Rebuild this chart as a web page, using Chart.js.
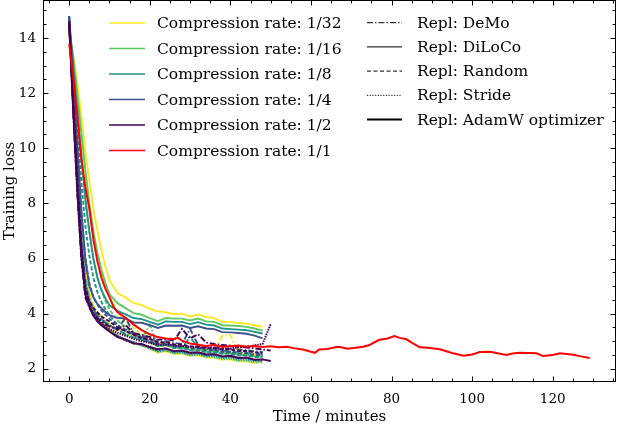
<!DOCTYPE html>
<html>
<head>
<meta charset="utf-8">
<script src="https://cdn.jsdelivr.net/npm/chart.js@4.4.1/dist/chart.umd.min.js"></script>
<style>
  html, body { margin: 0; padding: 0; background: #fff; }
  #wrap { width: 618px; height: 426px; position: relative; }
</style>
</head>
<body>
<div id="wrap"><canvas id="chart"></canvas></div>
<script>
// time grid (minutes) shared by the compressed runs
const minutes = [0, 1, 2, 3, 4, 5, 6, 7, 8, 9, 10, 12, 14, 16, 18, 20, 22, 24, 26, 28, 30, 32, 34, 36, 38, 40, 42, 44, 46, 48, 50];

const rates = ['1/32', '1/16', '1/8', '1/4', '1/2'];
const methods = ['DeMo', 'DiLoCo', 'Random', 'Stride'];

// DeMo (dash-dot)
const demo32 = [14.3, 12.0, 9.6, 7.3, 5.6, 4.75, 4.3, 4.05, 3.9, 3.76, 3.64, 3.45, 3.3, 3.16, 3.05, 2.95, 2.8, 2.86, 2.78, 2.76, 2.72, 2.7, 2.64, 2.62, 3.2, 3.22, 2.6, 2.56, 2.52, 2.5, null];
const demo16 = [14.4, 11.8, 9.4, 7.1, 5.4, 4.6, 4.22, 3.98, 3.84, 3.7, 3.6, 3.4, 3.24, 3.14, 3.06, 3.6, 2.84, 2.86, 2.8, 2.77, 2.72, 2.7, 2.65, 2.63, 2.6, 2.56, 2.54, 2.5, 2.48, 2.46, null];
const demo8 = [14.5, 11.6, 9.1, 6.8, 5.15, 4.5, 4.15, 3.94, 3.8, 3.68, 3.58, 3.4, 3.26, 3.14, 3.05, 2.98, 2.85, 2.88, 2.82, 2.78, 3.15, 2.76, 2.72, 2.68, 2.66, 2.62, 2.6, 2.57, 2.55, 2.52, null];
const demo4 = [14.8, 11.5, 8.9, 6.5, 5.0, 4.4, 4.1, 3.9, 3.78, 3.66, 3.56, 3.45, 3.85, 3.28, 3.18, 3.1, 2.98, 3.0, 2.94, 2.9, 3.45, 2.86, 2.82, 2.78, 2.75, 2.72, 2.7, 2.67, 2.64, 2.6, null];
const demo2 = [14.6, 11.3, 8.4, 6.0, 4.6, 4.22, 4.0, 3.84, 3.72, 3.62, 3.54, 3.42, 3.58, 3.3, 3.22, 3.16, 3.05, 3.08, 3.02, 3.45, 3.1, 3.25, 2.95, 2.9, 2.86, 2.84, 2.8, 2.77, 2.74, 2.7, 2.66];

// DiLoCo (solid)
const dil32 = [14.3, 13.4, 12.4, 11.2, 9.9, 8.8, 7.8, 7.0, 6.3, 5.7, 5.2, 4.75, 4.58, 4.38, 4.32, 4.17, 4.08, 4.05, 3.98, 4.0, 3.9, 3.97, 3.88, 3.84, 3.7, 3.7, 3.66, 3.64, 3.58, 3.52, null];
const dil16 = [14.4, 13.3, 12.0, 10.6, 9.2, 8.0, 7.0, 6.2, 5.6, 5.1, 4.7, 4.38, 4.2, 4.02, 3.96, 3.84, 3.73, 3.84, 3.82, 3.82, 3.75, 3.82, 3.72, 3.7, 3.58, 3.57, 3.55, 3.52, 3.46, 3.38, null];
const dil8 = [14.5, 13.0, 11.4, 9.8, 8.2, 7.0, 6.0, 5.3, 4.85, 4.55, 4.3, 4.1, 3.97, 3.84, 3.8, 3.7, 3.6, 3.72, 3.7, 3.7, 3.62, 3.69, 3.6, 3.57, 3.46, 3.44, 3.42, 3.4, 3.34, 3.28, null];
const dil4 = [14.8, 12.6, 10.2, 7.8, 6.0, 5.0, 4.6, 4.35, 4.2, 4.05, 3.95, 3.85, 3.82, 3.68, 3.67, 3.58, 3.48, 3.57, 3.56, 3.57, 3.48, 3.54, 3.46, 3.44, 3.33, 3.32, 3.3, 3.27, 3.2, 3.1, null];
const dil2 = [14.5, 11.4, 8.5, 6.1, 4.7, 4.25, 3.92, 3.72, 3.58, 3.46, 3.35, 3.15, 3.06, 2.92, 2.9, 2.78, 2.71, 2.74, 2.64, 2.66, 2.58, 2.6, 2.52, 2.53, 2.45, 2.47, 2.39, 2.41, 2.33, 2.34, 2.28];

// Random (dashed)
const rnd32 = [14.2, 13.1, 11.9, 10.5, 9.1, 7.9, 6.9, 6.15, 5.5, 5.0, 4.6, 4.05, 3.68, 3.47, 3.25, 3.14, 2.93, 2.95, 2.84, 2.84, 2.74, 2.75, 2.67, 2.67, 2.59, 2.61, 2.54, 2.55, 2.48, 2.47, null];
const rnd16 = [14.4, 12.9, 11.3, 9.6, 8.1, 6.9, 6.0, 5.35, 4.85, 4.45, 4.15, 3.75, 3.5, 3.26, 3.16, 2.98, 2.85, 2.88, 2.76, 2.77, 2.68, 2.7, 2.61, 2.62, 2.55, 2.57, 2.5, 2.5, 2.45, 2.44, null];
const rnd8 = [14.6, 12.6, 10.7, 8.8, 7.2, 6.1, 5.3, 4.78, 4.42, 4.15, 3.95, 3.6, 3.36, 3.24, 3.06, 2.98, 2.82, 2.86, 2.75, 2.76, 2.67, 2.68, 2.6, 2.6, 2.54, 2.55, 2.48, 2.49, 2.43, 2.42, null];
const rnd4 = [14.7, 12.2, 9.8, 7.6, 6.0, 5.1, 4.6, 4.32, 4.12, 3.96, 3.82, 3.56, 3.42, 3.24, 3.14, 3.0, 2.9, 2.93, 2.82, 2.83, 2.74, 2.75, 2.67, 2.68, 2.61, 2.62, 2.56, 2.57, 2.5, 2.5, null];
const rnd2 = [14.6, 11.8, 9.0, 6.5, 4.95, 4.45, 4.2, 4.04, 3.9, 3.8, 3.72, 3.5, 3.36, 3.24, 3.1, 3.08, 2.94, 2.97, 2.88, 2.88, 2.81, 2.81, 2.74, 2.75, 2.69, 2.7, 2.64, 2.65, 2.59, 2.58, null];

// Stride (dotted)
const str32 = [14.4, 12.1, 9.5, 7.1, 5.4, 4.55, 4.12, 3.88, 3.7, 3.55, 3.42, 3.22, 3.08, 2.9, 2.86, 2.7, 2.58, 2.62, 2.53, 2.54, 2.46, 2.48, 2.4, 2.4, 2.32, 2.33, 2.26, 2.27, 2.2, 2.25, null];
const str16 = [14.5, 11.9, 9.3, 6.9, 5.2, 4.45, 4.05, 3.82, 3.66, 3.52, 3.4, 3.2, 3.03, 2.96, 2.83, 2.77, 2.6, 2.66, 2.56, 2.57, 2.48, 2.51, 2.43, 2.42, 2.35, 2.36, 2.29, 2.29, 2.23, 2.24, null];
const str8 = [14.6, 11.7, 9.0, 6.6, 5.0, 4.35, 3.98, 3.76, 3.62, 3.48, 3.37, 3.18, 3.07, 2.91, 2.88, 2.74, 2.64, 2.67, 2.58, 2.6, 2.51, 2.54, 2.46, 2.46, 2.39, 2.4, 2.33, 2.34, 2.28, 2.28, null];
const str4 = [14.7, 11.6, 8.8, 6.4, 4.85, 4.3, 3.95, 3.74, 3.6, 3.47, 3.36, 3.2, 3.02, 2.97, 2.85, 2.82, 2.66, 2.72, 2.62, 2.64, 2.55, 2.58, 2.5, 2.51, 2.43, 2.45, 2.38, 2.39, 2.33, 2.33, null];
const str2 = [14.5, 11.5, 8.7, 6.3, 4.8, 4.3, 4.0, 3.8, 3.65, 3.54, 3.45, 3.3, 3.2, 3.08, 3.0, 2.94, 2.86, 2.88, 2.84, 2.82, 2.8, 2.78, 2.76, 2.74, 2.72, 2.74, 2.78, 2.8, 2.85, 2.9, 3.62];

// AdamW, uncompressed (1/1)
const adamMinutes = [0, 1, 2, 3, 4, 5, 6, 7, 8, 9, 10, 11, 12, 14, 16, 18, 20, 22, 24, 26, 27, 28, 30, 32, 34, 36, 38, 40, 42, 44, 46, 48, 50, 52, 54, 56, 58, 60, 61, 62, 64, 66, 67, 69, 71, 73, 74.5, 76, 77, 79, 80.7, 82, 83.7, 85, 87, 89, 92, 94, 95.3, 97.8, 100, 101.9, 104.4, 106, 108.5, 110, 111.8, 114, 116, 117.6, 120, 121.8, 123.5, 125.1, 127, 129.2];
const adamLoss = [13.8, 12.6, 11.2, 9.6, 8.6, 7.8, 6.7, 5.9, 5.3, 4.9, 4.6, 4.25, 4.05, 3.85, 3.6, 3.4, 3.25, 3.15, 3.1, 3.08, 3.12, 3.02, 2.92, 2.87, 2.83, 2.86, 2.8, 2.82, 2.84, 2.8, 2.83, 2.79, 2.82, 2.78, 2.8, 2.74, 2.7, 2.62, 2.58, 2.7, 2.72, 2.78, 2.8, 2.73, 2.76, 2.8, 2.86, 2.98, 3.05, 3.1, 3.19, 3.12, 3.07, 2.95, 2.78, 2.76, 2.71, 2.62, 2.56, 2.47, 2.52, 2.61, 2.62, 2.57, 2.5, 2.55, 2.58, 2.57, 2.56, 2.46, 2.5, 2.56, 2.54, 2.51, 2.45, 2.39];

const rateColors = ['#fde725', '#5ec962', '#21918c', '#3b528b', '#440154'];
const adamColor = '#ff0000';
const methodDash = { DeMo: [6, 2, 1.5, 2], DiLoCo: [], Random: [4, 2], Stride: [1.5, 1] };
const methodWidth = { DeMo: 1.9, DiLoCo: 1.9, Random: 1.9, Stride: 2 };

const series = {
  DeMo: [demo32, demo16, demo8, demo4, demo2],
  DiLoCo: [dil32, dil16, dil8, dil4, dil2],
  Random: [rnd32, rnd16, rnd8, rnd4, rnd2],
  Stride: [str32, str16, str8, str4, str2]
};

const compLegend = ['Compression rate: 1/32', 'Compression rate: 1/16', 'Compression rate: 1/8', 'Compression rate: 1/4', 'Compression rate: 1/2', 'Compression rate: 1/1'];
const replLegend = ['Repl: DeMo', 'Repl: DiLoCo', 'Repl: Random', 'Repl: Stride', 'Repl: AdamW optimizer'];

const datasets = [];
methods.forEach(m => {
  series[m].forEach((vals, r) => {
    datasets.push({
      label: m + ' ' + rates[r],
      data: vals.map((v, i) => ({ x: minutes[i], y: v })),
      borderColor: rateColors[r],
      borderDash: methodDash[m],
      borderWidth: methodWidth[m],
      order: 5 - r
    });
  });
});
datasets.push({
  label: 'AdamW 1/1',
  data: adamLoss.map((v, i) => ({ x: adamMinutes[i], y: v })),
  borderColor: adamColor,
  borderWidth: 2,
  order: 0
});

const serif = 'DejaVu Serif';

// inward ticks on all four sides, frame, and the two-column legend
const frameAndLegend = {
  id: 'frameAndLegend',
  afterDraw(chart) {
    const { ctx, chartArea: a, scales: { x, y } } = chart;
    ctx.save();
    ctx.strokeStyle = '#000';
    ctx.lineWidth = 1;
    const L = Math.round(a.left) + 0.5, R = Math.round(a.right) - 0.5;
    const T = Math.round(a.top) + 0.5, B = Math.round(a.bottom) - 0.5;
    ctx.strokeRect(L, T, R - L, B - T);
    ctx.beginPath();
    for (let v = -5; v <= 135; v += 5) {
      const px = Math.round(x.getPixelForValue(v)) + 0.5;
      const len = v % 20 === 0 ? 5 : 3;
      ctx.moveTo(px, B); ctx.lineTo(px, B - len);
      ctx.moveTo(px, T); ctx.lineTo(px, T + len);
    }
    for (let v = 2; v <= 15; v += 0.5) {
      const py = Math.round(y.getPixelForValue(v)) + 0.5;
      const len = v % 2 === 0 ? 5 : 3;
      ctx.moveTo(L, py); ctx.lineTo(L + len, py);
      ctx.moveTo(R, py); ctx.lineTo(R - len, py);
    }
    ctx.stroke();

    ctx.font = '15.5px "' + serif + '"';
    ctx.fillStyle = '#000';
    ctx.textBaseline = 'middle';
    const leftColors = rateColors.concat([adamColor]);
    compLegend.forEach((txt, i) => {
      const yy = 23 + i * 25.5;
      ctx.beginPath();
      ctx.strokeStyle = leftColors[i];
      ctx.lineWidth = 1.6;
      ctx.setLineDash([]);
      ctx.moveTo(109, yy); ctx.lineTo(145, yy);
      ctx.stroke();
      ctx.fillText(txt, 157, yy + 1);
    });
    const replDash = [methodDash.DeMo, methodDash.DiLoCo, [4, 2.5], [1.2, 1.5], []];
    replLegend.forEach((txt, i) => {
      const yy = 22.7 + i * 24.2;
      ctx.beginPath();
      ctx.strokeStyle = '#000';
      ctx.lineWidth = i === 4 ? 2 : 1;
      ctx.setLineDash(replDash[i]);
      ctx.moveTo(367, yy); ctx.lineTo(402, yy);
      ctx.stroke();
      ctx.setLineDash([]);
      ctx.fillText(txt, 417, yy + 1);
    });
    ctx.restore();
  }
};

new Chart(document.getElementById('chart'), {
  type: 'line',
  data: { datasets },
  options: {
    responsive: true,
    maintainAspectRatio: false,
    animation: false,
    layout: { padding: { top: 0, right: 2, left: 0, bottom: 0 } },
    elements: { point: { radius: 0 }, line: { tension: 0, borderCapStyle: 'butt' } },
    plugins: { legend: { display: false }, tooltip: { enabled: false } },
    scales: {
      x: {
        type: 'linear',
        min: -6.5,
        max: 135.7,
        grid: { display: false, drawTicks: false },
        border: { display: false },
        ticks: { stepSize: 20, includeBounds: false, padding: 9, color: '#000', font: { family: serif, size: 13.5 }, maxRotation: 0 },
        title: { display: true, text: 'Time / minutes', color: '#000', font: { family: serif, size: 15 }, padding: { top: 0, bottom: 0 } },
        afterFit(s) { s.height = 44; s.paddingLeft = 0; s.paddingRight = 0; }
      },
      y: {
        min: 1.52,
        max: 15.38,
        grid: { display: false, drawTicks: false },
        border: { display: false },
        ticks: { stepSize: 2, includeBounds: false, padding: 7, color: '#000', font: { family: serif, size: 13.5 } },
        title: { display: true, text: 'Training loss', color: '#000', font: { family: serif, size: 15 }, padding: { top: 1, bottom: 0 } },
        afterFit(s) { s.width = 43; s.paddingTop = 0; s.paddingBottom = 0; }
      }
    }
  },
  plugins: [frameAndLegend]
});
</script>
</body>
</html>
